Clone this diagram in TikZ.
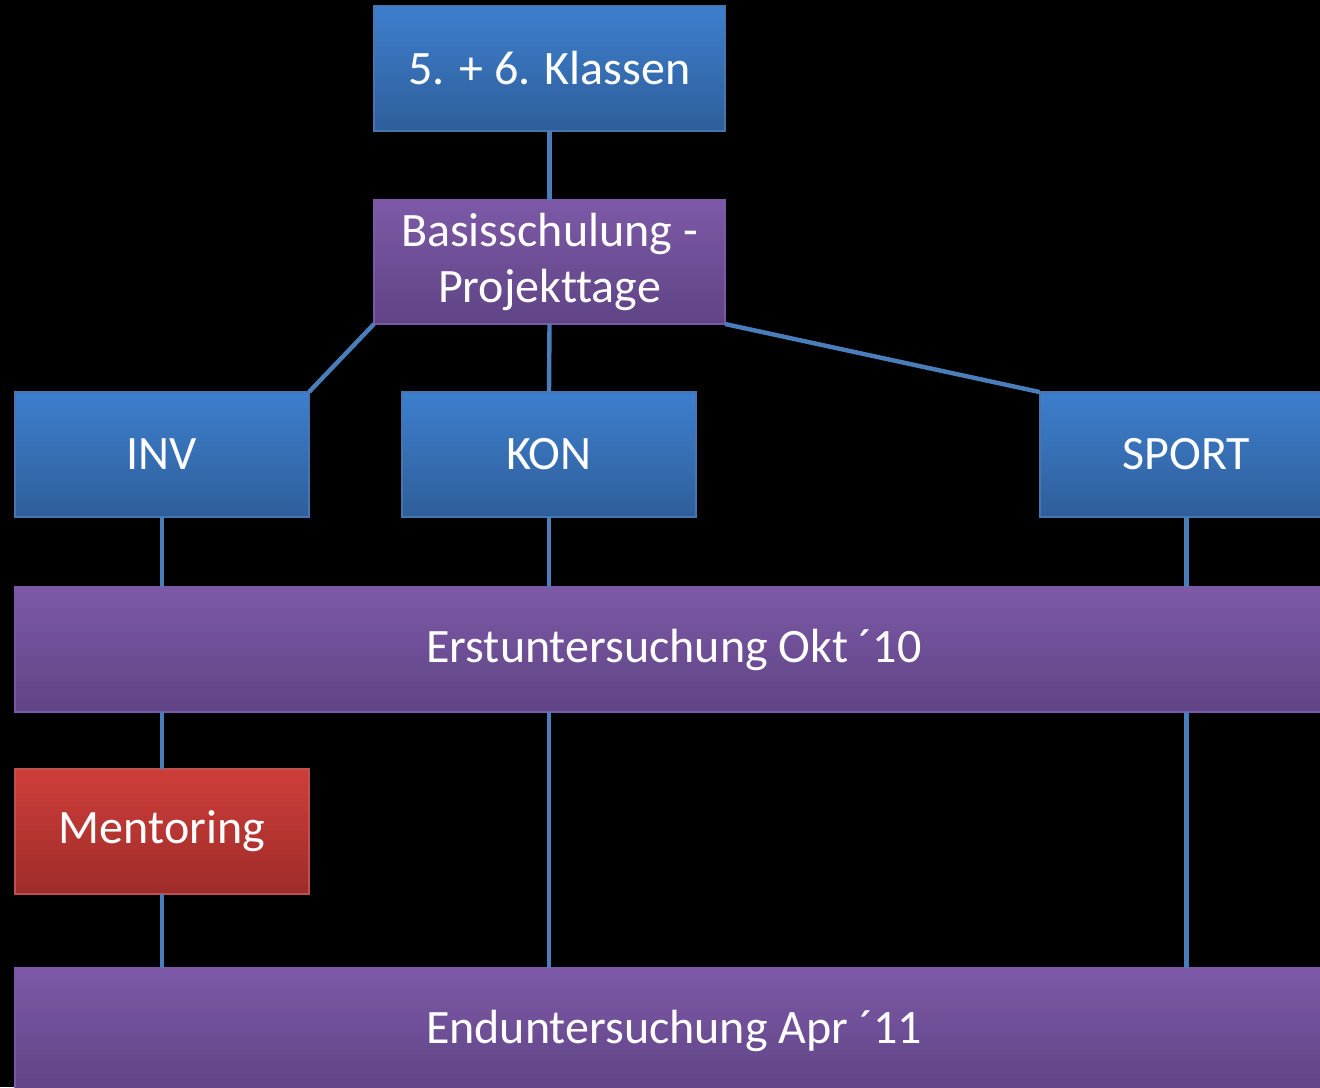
\documentclass[tikz,border=0pt]{standalone}
\usepackage{fontspec}
\setmainfont{Carlito}[Ligatures=NoCommon]
\definecolor{conn}{HTML}{4A7EBB}
\definecolor{bluetop}{HTML}{3D7FCD}
\definecolor{bluebot}{HTML}{2F5E9A}
\definecolor{blueborder}{HTML}{4675B0}
\definecolor{purtop}{HTML}{7D59A7}
\definecolor{purbot}{HTML}{5F4485}
\definecolor{purborder}{HTML}{7A5AA6}
\definecolor{redtop}{HTML}{CE3E39}
\definecolor{redbot}{HTML}{9E2C2A}
\definecolor{redborder}{HTML}{C0504D}
\begin{document}
\begin{tikzpicture}[x=0.5pt,y=-0.5pt,
  box/.style={rectangle, inner sep=0pt, outer sep=0pt, line width=1pt,
    text=white, align=center, font=\fontsize{24}{28}\selectfont,
    minimum height=62.5pt},
  bluebox/.style={box, draw=blueborder, top color=bluetop, bottom color=bluebot},
  purbox/.style={box, draw=purborder, top color=purtop, bottom color=purbot},
  redbox/.style={box, draw=redborder, top color=redtop, bottom color=redbot},
  link/.style={draw=conn, line width=2.2pt}]
\fill[black] (0,0) rectangle (1320,1087);
\useasboundingbox (0,0) rectangle (1320,1087);
\clip (0,0) rectangle (1320,1087);
\node[bluebox, minimum width=175.5pt] (top) at (549.5,68.5) {5. + 6. Klassen};
\node[purbox, minimum width=175.5pt, minimum height=62pt] (basis) at (549.5,262) {Basisschulung -\\Projekttage};
\node[bluebox, minimum width=147pt] (inv) at (162,454.5) {INV};
\node[bluebox, minimum width=147pt] (kon) at (549,454.5) {KON};
\node[bluebox, minimum width=147pt] (sport) at (1186.5,454.5) {SPORT};
\node[purbox, minimum width=659pt] (erst) at (674,649.5) {Erstuntersuchung Okt ´10};
\node[redbox, minimum width=147pt] (ment) at (162,831.5) {Mentoring};
\node[purbox, minimum width=659pt] (end) at (674,1030.5) {Enduntersuchung Apr ´11};
\draw[link] (top.south) -- (basis.north);
\draw[link] (basis.south west) -- (inv.north east);
\draw[link] (basis.south) -- (kon.north);
\draw[link] (basis.south east) -- (sport.north west);
\draw[link] (inv.south) -- (inv.south |- erst.north);
\draw[link] (kon.south) -- (kon.south |- erst.north);
\draw[link] (sport.south) -- (sport.south |- erst.north);
\draw[link] (ment.north |- erst.south) -- (ment.north);
\draw[link] (ment.south) -- (ment.south |- end.north);
\draw[link] (kon.south |- erst.south) -- (kon.south |- end.north);
\draw[link] (sport.south |- erst.south) -- (sport.south |- end.north);
\end{tikzpicture}
\end{document}
